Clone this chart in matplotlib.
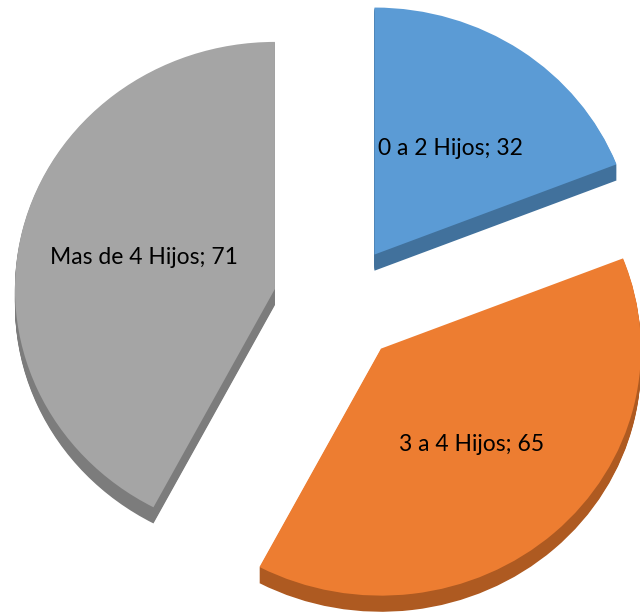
import matplotlib.pyplot as plt

# Number of children per household
categories = ['0 a 2 Hijos', '3 a 4 Hijos', 'Mas de 4 Hijos']
values = [32, 65, 71]
top_colors = ['#5B9BD5', '#ED7D31', '#A5A5A5']
side_colors = ['#41719C', '#AE5A21', '#7C7C7C']

labels = [f'{c}; {v}' for c, v in zip(categories, values)]

W, H = 640, 616
squash = 0.95          # slight tilt of the pie (vertical squeeze)
center = (339, (H - 304) / squash)
radius = 260
explode = [63, 63, 66]   # pie() takes the offset in data units
depth = 17             # thickness of the extruded edge

fig = plt.figure(figsize=(W / 100, H / 100), dpi=100)
ax = fig.add_axes([0, 0, 1, 1])

# Extruded sides: stack darker copies shifted downward
for k in range(depth, 0, -1):
    ax.pie(values, explode=explode, colors=side_colors, startangle=90,
           counterclock=False, radius=radius,
           center=(center[0], center[1] - k),
           wedgeprops={'linewidth': 0})

# Top surface with labels
wedges, texts = ax.pie(values, explode=explode, colors=top_colors,
                       startangle=90, counterclock=False, radius=radius,
                       center=center, labels=labels, labeldistance=0.52,
                       wedgeprops={'linewidth': 0},
                       textprops={'ha': 'center', 'va': 'center',
                                  'fontsize': 16.5, 'family': 'Lato',
                                  'color': 'black'})

ax.set_aspect('auto')
ax.set_xlim(0, W)
ax.set_ylim(0, H / squash)
ax.axis('off')

fig.savefig('out.png', dpi=100)
